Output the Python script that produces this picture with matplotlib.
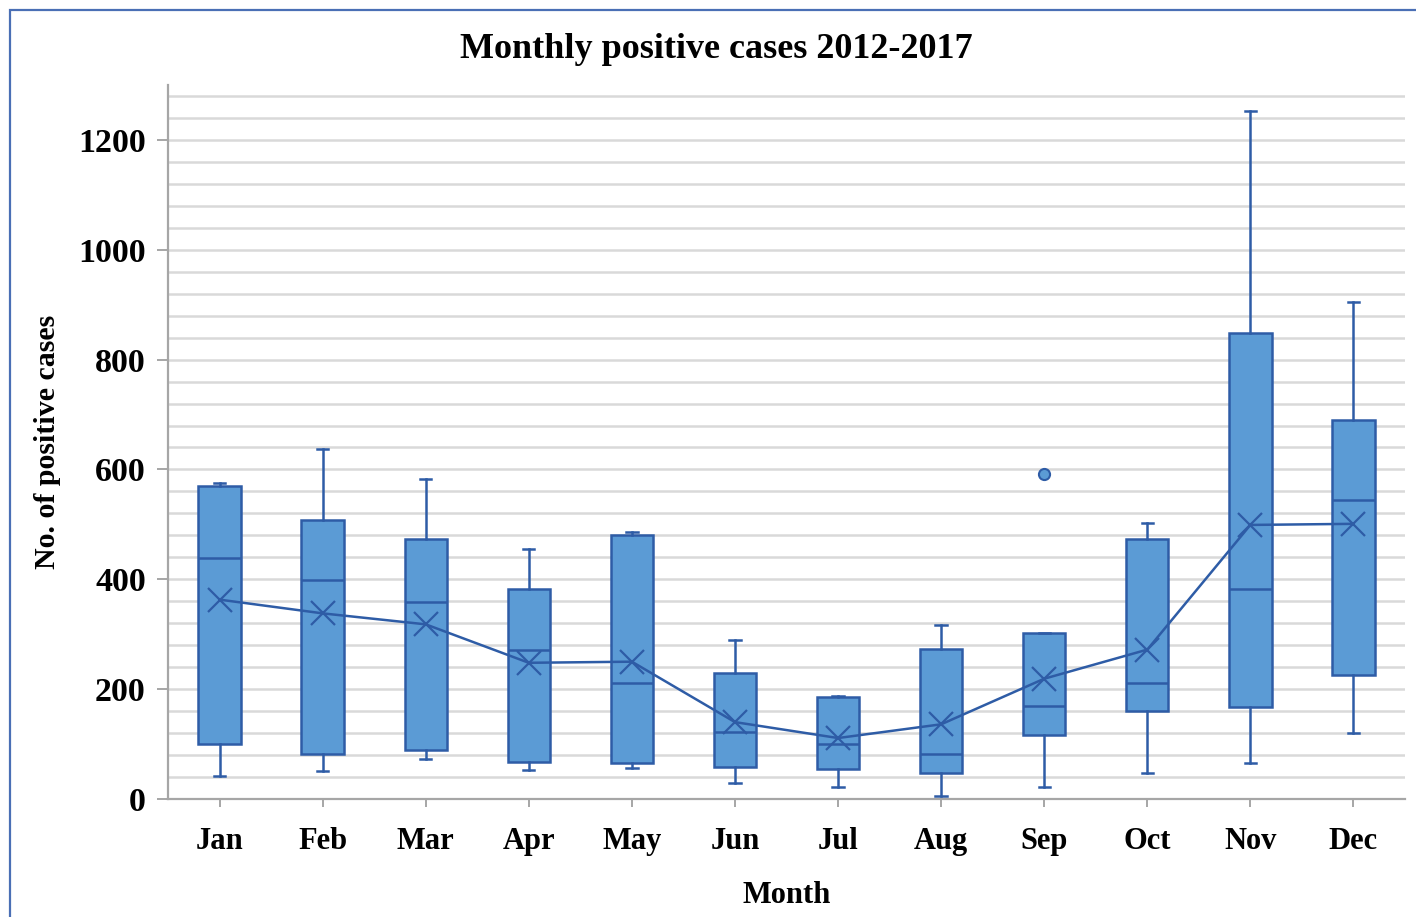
import matplotlib.pyplot as plt
from matplotlib.patches import Rectangle
from matplotlib.ticker import MultipleLocator

# values
months = ["Jan", "Feb", "Mar", "Apr", "May", "Jun", "Jul", "Aug", "Sep", "Oct", "Nov", "Dec"]
whisk_lo = [42, 51, 73, 53, 56, 29, 22, 6, 22, 47, 65, 120]
q1 = [100, 82, 89, 67, 65, 58, 54, 47, 116, 160, 167, 225]
median = [439, 399, 358, 272, 212, 122, 100, 82, 169, 212, 383, 544]
q3 = [570, 508, 474, 383, 481, 229, 185, 274, 303, 474, 848, 690]
whisk_hi = [575, 637, 583, 456, 486, 289, 187, 316, 303, 503, 1252, 904]
mean = [363, 338, 318, 248, 250, 140, 111, 136, 219, 272, 499, 501]
outliers = [[], [], [], [], [], [], [], [], [591], [], [], []]

fill_col = "#5B9BD5"
edge_col = "#2E5CA6"
grid_col = "#D9D9D9"
serif = ["Liberation Serif", "DejaVu Serif"]

fig = plt.figure(figsize=(14.16, 9.17), dpi=100)
fig.patches.append(Rectangle((10 / 1416, -0.05), 1.1, 1 - 10 / 917 + 0.05,
                             transform=fig.transFigure, fill=False,
                             edgecolor="#4A6FB5", linewidth=1.6))
ax = fig.add_axes([168 / 1416, 1 - 799 / 917, (1405 - 168) / 1416, (799 - 85) / 917])

stats = []
for i, m in enumerate(months):
    stats.append({"label": m, "whislo": whisk_lo[i], "q1": q1[i], "med": median[i],
                  "q3": q3[i], "whishi": whisk_hi[i], "mean": mean[i],
                  "fliers": outliers[i]})

pos = list(range(1, len(months) + 1))
ax.bxp(stats, positions=pos, widths=0.41, capwidths=0.11, patch_artist=True,
       showmeans=True, zorder=3,
       boxprops=dict(facecolor=fill_col, edgecolor=edge_col, linewidth=1.8),
       medianprops=dict(color=edge_col, linewidth=1.8),
       whiskerprops=dict(color=edge_col, linewidth=1.8),
       capprops=dict(color=edge_col, linewidth=1.8),
       meanprops=dict(marker="x", markersize=17, markeredgecolor=edge_col,
                      markeredgewidth=1.6),
       flierprops=dict(marker="o", markersize=8, markerfacecolor=fill_col,
                       markeredgecolor=edge_col, markeredgewidth=1.5))
ax.plot(pos, mean, color=edge_col, linewidth=1.8, zorder=4)

ax.set_xlim(0.5, 12.5)
ax.set_ylim(0, 1300)
ax.yaxis.set_major_locator(MultipleLocator(200))
ax.yaxis.set_minor_locator(MultipleLocator(40))
ax.grid(axis="y", which="both", color=grid_col, linewidth=1.8, zorder=0)
ax.set_axisbelow(True)

for s in ["top", "right"]:
    ax.spines[s].set_visible(False)
for s in ["left", "bottom"]:
    ax.spines[s].set_color("#A6A6A6")
    ax.spines[s].set_linewidth(1.6)

ax.tick_params(axis="y", which="major", length=8, width=1.4, color="#A6A6A6", pad=8)
ax.tick_params(axis="y", which="minor", length=0)
ax.tick_params(axis="x", length=6, width=1.4, color="#A6A6A6", pad=14)
ax.set_xticks(pos)
ax.set_xticklabels(months)
for lab in ax.get_xticklabels():
    lab.set_fontfamily(serif)
    lab.set_fontweight("bold")
    lab.set_fontsize(22)
for lab in ax.get_yticklabels():
    lab.set_fontfamily(serif)
    lab.set_fontweight("bold")
    lab.set_fontsize(24.5)

ax.set_xlabel("Month", fontfamily=serif, fontweight="bold", fontsize=22, labelpad=18)
ax.set_ylabel("No. of positive cases", fontfamily=serif, fontweight="bold",
              fontsize=21.5, labelpad=12)
fig.text(0.506, 1 - 50 / 917, "Monthly positive cases 2012-2017", ha="center",
         va="center", fontfamily=serif, fontweight="bold", fontsize=26)

fig.savefig("out.png", dpi=100)
